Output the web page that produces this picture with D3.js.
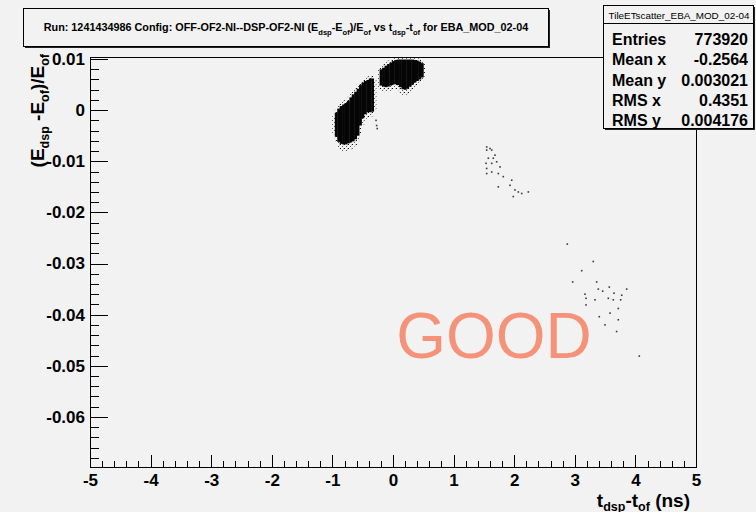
<!DOCTYPE html>
<html><head><meta charset="utf-8">
<script src="https://cdn.jsdelivr.net/npm/d3@7"></script>
<style>
html,body{margin:0;padding:0;background:#f2f2f2;}
svg{display:block;}
text{font-family:"Liberation Sans",Arial,Helvetica,sans-serif;}
</style>
</head><body>
<svg id="c" width="756" height="512"></svg>
<script>
// ---------------- data ----------------
const xTicks = [-5,-4,-3,-2,-1,0,1,2,3,4,5];
const xTickLabels = ["-5","-4","-3","-2","-1","0","1","2","3","4","5"];
const yTicks = [0.01,0,-0.01,-0.02,-0.03,-0.04,-0.05,-0.06];
const yTickLabels = ["0.01","0","-0.01","-0.02","-0.03","-0.04","-0.05","-0.06"];

// dense scatter columns (bin centre in t, dense core range and sparse halo range in E)
const clusterX = [-0.98,-0.94,-0.90,-0.86,-0.82,-0.78,-0.74,-0.70,-0.66,-0.62,-0.58,-0.54,-0.50,-0.46,-0.42,-0.38,-0.34,-0.30,
                  -0.24,-0.20,-0.16,-0.12,-0.08,-0.04,0.00,0.04,0.08,0.12,0.16,0.20,0.24,0.28,0.32,0.36,0.40,0.44,0.48,0.52];
const coreLo = [null,-0.0052,-0.0062,-0.0066,-0.0067,-0.0067,-0.0065,-0.0063,-0.0061,-0.0057,-0.0050,-0.0030,-0.0016,-0.0008,-0.0004,-0.0004,-0.0003,null,
                null,0.0048,0.0046,0.0045,0.0046,0.0048,0.0050,0.0051,0.0049,0.0045,0.0041,0.0040,0.0042,0.0046,0.0050,0.0054,0.0057,0.0060,0.0064,null];
const coreHi = [null,-0.0005,0.0003,0.0008,0.0011,0.0014,0.0018,0.0025,0.0031,0.0036,0.0042,0.0049,0.0054,0.0057,0.0059,0.0062,0.0062,null,
                null,0.0080,0.0083,0.0087,0.0090,0.0093,0.0096,0.0098,0.0099,0.0099,0.0099,0.0099,0.0099,0.0099,0.0099,0.0098,0.0097,0.0095,0.0092,null];
const haloLo = [-0.0046,-0.0062,-0.0072,-0.0078,-0.0080,-0.0082,-0.0080,-0.0078,-0.0075,-0.0070,-0.0062,-0.0045,-0.0030,-0.0020,-0.0015,-0.0014,-0.0012,0.0000,
                0.0045,0.0038,0.0036,0.0035,0.0036,0.0038,0.0040,0.0041,0.0039,0.0034,0.0030,0.0028,0.0030,0.0034,0.0040,0.0045,0.0049,0.0053,0.0058,0.0066];
const haloHi = [-0.0012,0.0002,0.0010,0.0015,0.0019,0.0022,0.0026,0.0033,0.0039,0.0044,0.0050,0.0056,0.0061,0.0064,0.0066,0.0068,0.0068,0.0060,
                0.0080,0.0088,0.0091,0.0094,0.0097,0.0100,0.0102,0.0103,0.0103,0.0103,0.0103,0.0103,0.0103,0.0103,0.0103,0.0103,0.0102,0.0100,0.0097,0.0090];

// isolated scatter entries
const sparseX = [-0.28,-0.27,-0.26,
  1.546,1.601,1.546,1.629,1.683,1.573,1.655,1.535,1.629,1.711,1.766,1.546,1.546,1.629,1.738,1.820,1.959,1.931,1.738,2.013,2.068,2.124,2.233,1.985,
  2.876,3.305,3.114,2.965,3.361,3.168,3.388,3.460,3.569,3.647,3.774,3.856,3.185,3.333,3.553,3.635,3.757,3.185,3.718,3.581,3.404,3.718,3.498,3.690,4.064];
const sparseY = [-0.0020,-0.0030,-0.0036,
  -0.0072,-0.0075,-0.0078,-0.0078,-0.0088,-0.0094,-0.0094,-0.0104,-0.0104,-0.0101,-0.0111,-0.0114,-0.0124,-0.0121,-0.0124,-0.0130,-0.0137,-0.0147,-0.0150,-0.0156,-0.0160,-0.0163,-0.0160,-0.0169,
  -0.0262,-0.0296,-0.0314,-0.0336,-0.0336,-0.0360,-0.0350,-0.0354,-0.0346,-0.0358,-0.0362,-0.0350,-0.0368,-0.0371,-0.0368,-0.0371,-0.0371,-0.0381,-0.0388,-0.0397,-0.0404,-0.0410,-0.0420,-0.0433,-0.0481];

const titleParts = [["Run: 1241434986 Config: OFF-OF2-NI--DSP-OF2-NI (E",0],["dsp",1],["-E",0],["of",1],[")/E",0],["of",1],[" vs t",0],["dsp",1],["-t",0],["of",1],[" for EBA_MOD_02-04",0]];
const yTitleParts = [["(E",0],["dsp",1],[" -E",0],["of",1],[")/E",0],["of",1]];
const xTitleParts = [["t",0],["dsp",1],["-t",0],["of",1],[" (ns)",0]];
const statsTitle = "TileETscatter_EBA_MOD_02-04";
const statLabels = ["Entries","Mean x","Mean y","RMS x","RMS y"];
const statValues = ["773920","-0.2564","0.003021","0.4351","0.004176"];
const stampText = "GOOD";

// ---------------- drawing ----------------
const svg = d3.select("#c");
const bg = "#f2f2f2";
svg.append("rect").attr("width",756).attr("height",512).attr("fill",bg);

const L = 90, R = 696, T = 57, B = 467;
const x = d3.scaleLinear().domain([-5,5]).range([L,R]);
const y = d3.scaleLinear().domain([-0.0698,0.0104]).range([B,T]);

const defs = svg.append("defs");
const pat = defs.append("pattern").attr("id","speck").attr("patternUnits","userSpaceOnUse")
  .attr("width",4).attr("height",4);
pat.append("rect").attr("x",0).attr("y",0).attr("width",1).attr("height",1).attr("fill","#111");
pat.append("rect").attr("x",2).attr("y",2).attr("width",1).attr("height",1).attr("fill","#555");
pat.append("rect").attr("x",3).attr("y",0.5).attr("width",0.8).attr("height",0.8).attr("fill","#888");

const cols = clusterX.map((c,i)=>({c, lo:coreLo[i], hi:coreHi[i], hlo:haloLo[i], hhi:haloHi[i]}));
const halfW = 0.02;
const plot = svg.append("g");
plot.selectAll("rect.halo").data(cols).join("rect").attr("class","halo")
  .attr("x",d=>x(d.c-halfW)).attr("width",d=>x(d.c+halfW)-x(d.c-halfW)+0.3)
  .attr("y",d=>y(Math.min(d.hhi,0.0104))).attr("height",d=>y(d.hlo)-y(Math.min(d.hhi,0.0104)))
  .attr("fill","url(#speck)");
plot.selectAll("rect.core").data(cols.filter(d=>d.lo!==null)).join("rect").attr("class","core")
  .attr("x",d=>x(d.c-halfW)).attr("width",d=>x(d.c+halfW)-x(d.c-halfW)+0.4)
  .attr("y",d=>y(d.hi)).attr("height",d=>y(d.lo)-y(d.hi))
  .attr("fill","#050505");
plot.selectAll("rect.pt").data(sparseX.map((v,i)=>[v,sparseY[i]])).join("rect").attr("class","pt")
  .attr("x",d=>x(d[0])-0.8).attr("y",d=>y(d[1])-0.8).attr("width",1.6).attr("height",1.6)
  .attr("fill","#3a3a3a");

// axes
const xAxis = d3.axisBottom(x).tickValues(xTicks).tickFormat((d,i)=>xTickLabels[i]).tickSize(-12).tickSizeOuter(0).tickPadding(7);
const xMinor = d3.axisBottom(x).tickValues(x.ticks(50)).tickFormat("").tickSize(-6).tickSizeOuter(0);
const yAxis = d3.axisLeft(y).tickValues(yTicks).tickFormat((d,i)=>yTickLabels[i]).tickSize(-18).tickSizeOuter(0).tickPadding(5);
const yMinor = d3.axisLeft(y).tickValues(y.ticks(40)).tickFormat("").tickSize(-9).tickSizeOuter(0);

function styleAxis(g){
  g.select(".domain").remove();
  g.selectAll("line").attr("stroke","#000").attr("shape-rendering","crispEdges");
  g.selectAll("text").attr("font-size",17).attr("font-weight","bold").attr("fill","#000")
   .attr("font-family","'Liberation Sans',Arial,sans-serif");
}
svg.append("g").attr("transform",`translate(0,${B})`).call(xMinor).call(styleAxis);
svg.append("g").attr("transform",`translate(0,${B})`).call(xAxis).call(styleAxis);
svg.append("g").attr("transform",`translate(${L},0)`).call(yMinor).call(styleAxis);
svg.append("g").attr("transform",`translate(${L},0)`).call(yAxis).call(styleAxis);

// frame
svg.append("rect").attr("x",L+0.5).attr("y",T+0.5).attr("width",R-L).attr("height",B-T)
  .attr("fill","none").attr("stroke","#000").attr("shape-rendering","crispEdges");

// axis titles
function addParts(t, parts, big, small, shift){
  parts.forEach(([s,sub],i)=>{
    const prev = i>0 ? parts[i-1][1] : 0;
    const dy = sub && !prev ? shift : (!sub && prev ? -shift : 0);
    t.append("tspan").attr("font-size", sub?small:big).attr("dy", dy).text(s);
  });
}
const xt = svg.append("text").attr("x",690).attr("y",507).attr("text-anchor","end")
  .attr("font-weight","bold").attr("fill","#000");
addParts(xt, xTitleParts, 19, 12.5, 3.5);
const yt = svg.append("text").attr("transform","translate(44,54) rotate(-90)").attr("text-anchor","end")
  .attr("font-weight","bold").attr("fill","#000");
addParts(yt, yTitleParts, 19, 12.5, 5);

// title box
svg.append("rect").attr("x",25).attr("y",10).attr("width",525).attr("height",38).attr("fill","#222");
svg.append("rect").attr("x",23.5).attr("y",8.5).attr("width",525).attr("height",38).attr("fill",bg)
  .attr("stroke","#000").attr("shape-rendering","crispEdges");
const tt = svg.append("text").attr("x",286).attr("y",31).attr("text-anchor","middle")
  .attr("font-weight","bold").attr("fill","#000");
addParts(tt, titleParts, 10, 7, 4);
const tw = tt.node().getComputedTextLength();
const sc = 485/tw;
tt.selectAll("tspan").attr("font-size",(d,i,n)=> (titleParts[i][1]?7:10)*sc);

// stats box
const sx = 603, sy = 5, sw = 150, sh = 123;
svg.append("rect").attr("x",sx+2).attr("y",sy+2).attr("width",sw).attr("height",sh).attr("fill","#222");
svg.append("rect").attr("x",sx+0.5).attr("y",sy+0.5).attr("width",sw).attr("height",sh).attr("fill",bg)
  .attr("stroke","#000").attr("shape-rendering","crispEdges");
svg.append("line").attr("x1",sx).attr("x2",sx+sw).attr("y1",sy+18.5).attr("y2",sy+18.5)
  .attr("stroke","#000").attr("shape-rendering","crispEdges");
const st = svg.append("text").attr("x",sx+sw/2+1).attr("y",sy+14).attr("text-anchor","middle")
  .attr("font-size",9).attr("fill","#000").text(statsTitle);
const stw = st.node().getComputedTextLength();
st.attr("font-size", 9*141/stw);
const rowY = d3.scalePoint().domain(statLabels).range([45,126]);
svg.append("g").selectAll("text").data(statLabels).join("text")
  .attr("x",612).attr("y",d=>rowY(d)).attr("font-size",16).attr("font-weight","bold").attr("fill","#000").text(d=>d);
svg.append("g").selectAll("text").data(statValues).join("text")
  .attr("x",748).attr("y",(d,i)=>rowY(statLabels[i])).attr("text-anchor","end")
  .attr("font-size",16).attr("font-weight","bold").attr("fill","#000").text(d=>d);

// stamp
svg.append("text").attr("x",494).attr("y",358).attr("text-anchor","middle")
  .attr("font-size",64).attr("fill","#f5937a").text(stampText);
</script>
</body></html>
